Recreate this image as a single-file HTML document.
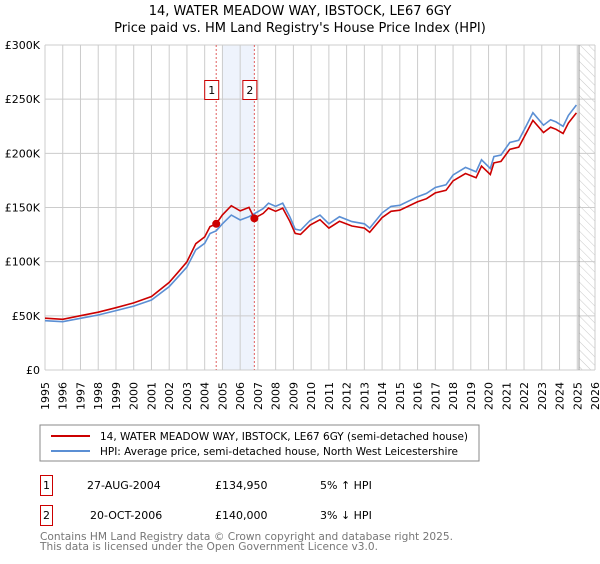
<!DOCTYPE html>
<html><head><meta charset="utf-8">
<style>
body{margin:0;background:#fff;font-family:"DejaVu Sans","Liberation Sans",sans-serif;}
svg text{font-family:"DejaVu Sans","Liberation Sans",sans-serif;}
</style></head>
<body>
<svg id="c" width="600" height="560" xmlns="http://www.w3.org/2000/svg">
<defs>
<pattern id="hatch" width="6" height="6" patternUnits="userSpaceOnUse" patternTransform="rotate(-45)">
<line x1="0" y1="0" x2="0" y2="6" stroke="#bbb" stroke-width="0.8"/>
</pattern>
</defs>
<text x="300" y="15" text-anchor="middle" font-size="13" fill="#000">14, WATER MEADOW WAY, IBSTOCK, LE67 6GY</text>
<text x="300" y="32" text-anchor="middle" font-size="13" fill="#000">Price paid vs. HM Land Registry's House Price Index (HPI)</text>
<g id="grid"></g>
<g id="marks"></g>
<g id="axes"></g>
<rect x="40" y="425" width="439" height="36" fill="#fff" stroke="#888"/>
<line x1="51" y1="436" x2="90" y2="436" stroke="#cc0000" stroke-width="2"/>
<text x="100" y="440" font-size="11" textLength="368" lengthAdjust="spacingAndGlyphs">14, WATER MEADOW WAY, IBSTOCK, LE67 6GY (semi-detached house)</text>
<line x1="51" y1="451" x2="90" y2="451" stroke="#5b8fd4" stroke-width="2"/>
<text x="100" y="455" font-size="11" textLength="358" lengthAdjust="spacingAndGlyphs">HPI: Average price, semi-detached house, North West Leicestershire</text>
<g>
<rect x="40.5" y="475.5" width="12" height="20" fill="#fff" stroke="#cc0000"/>
<text x="46.5" y="489" text-anchor="middle" font-size="11">1</text>
<text x="87" y="489" font-size="11">27-AUG-2004</text>
<text x="215" y="489" font-size="11">£134,950</text>
<text x="320" y="489" font-size="11">5% ↑ HPI</text>
</g>
<g>
<rect x="40.5" y="505.5" width="12" height="20" fill="#fff" stroke="#cc0000"/>
<text x="46.5" y="519" text-anchor="middle" font-size="11">2</text>
<text x="90" y="519" font-size="11">20-OCT-2006</text>
<text x="215" y="519" font-size="11">£140,000</text>
<text x="320" y="519" font-size="11">3% ↓ HPI</text>
</g>
<text x="40" y="540" font-size="11" fill="#777" textLength="413" lengthAdjust="spacingAndGlyphs">Contains HM Land Registry data © Crown copyright and database right 2025.</text>
<text x="40" y="550" font-size="11" fill="#777" textLength="338" lengthAdjust="spacingAndGlyphs">This data is licensed under the Open Government Licence v3.0.</text>
</svg>
<script>
const hpiYears=[1995,1996,1997,1998,1999,2000,2001,2002,2002.5,2003,2003.5,2004,2004.3,2004.65,2005,2005.5,2006,2006.5,2006.8,2007.3,2007.6,2008,2008.4,2008.8,2009.1,2009.4,2009.94,2010.5,2011,2011.6,2012.3,2013,2013.3,2014,2014.5,2015,2016,2016.5,2017,2017.6,2018,2018.7,2019.3,2019.6,2020.1,2020.3,2020.7,2021.2,2021.7,2022.1,2022.5,2023.1,2023.5,2023.8,2024.2,2024.5,2024.95];
const hpiValues=[45.5,44.6,47.7,50.8,54.8,59,64.6,77,86,95,111,117,126,128.5,135,143,138.5,141.5,144.3,149,154,151,154,141.5,130,129,138,143,135,141.5,137,135,131,145,151,152,160,163,168.5,171,180,187,183,194,186,197,198.5,210,212,224.6,237.5,226,231,229,225,235,244.6];
const saleYears=[2004.65,2006.8];
const salePrices=[134950,140000];
const yTicks=[0,50,100,150,200,250,300];
const yTickLabels=["£0","£50K","£100K","£150K","£200K","£250K","£300K"];
const xTicks=[];for(let y=1995;y<=2026;y++)xTicks.push(y);

const NS="http://www.w3.org/2000/svg";
const X=y=>45+(y-1995)*(550/31);
const Y=v=>370-v*(325/300);
function mk(tag,attrs,parent){const e=document.createElementNS(NS,tag);for(const k in attrs)e.setAttribute(k,attrs[k]);parent.appendChild(e);return e;}
const grid=document.getElementById('grid'),marks=document.getElementById('marks'),axes=document.getElementById('axes');
let band=mk('rect',{x:X(2005),y:Y(300),width:X(saleYears[1])-X(2005),height:Y(0)-Y(300),fill:'#eef3fc'},grid);


let hatch=mk('rect',{x:X(2025.1),y:Y(300),width:X(2026)-X(2025.1),height:Y(0)-Y(300),fill:'url(#hatch)'},grid);


xTicks.forEach(t=>{
 let l=mk('line',{x1:X(t),x2:X(t),y1:Y(300),y2:Y(0),stroke:'#ccc','stroke-width':1},grid);
 
 
 let tx=mk('text',{x:0,y:0,transform:`translate(${X(t)+4},${Y(0)+12}) rotate(-90)`,'text-anchor':'end','font-size':'11'},axes);
 tx.textContent=t;
 
 
});
yTicks.forEach((t,i)=>{
 let l=mk('line',{x1:X(1995),x2:X(2026),y1:Y(t),y2:Y(t),stroke:'#ccc','stroke-width':1},grid);
 
 
 let tx=mk('text',{x:40,y:Y(t)+4,'text-anchor':'end','font-size':'11'},axes);
 tx.textContent=yTickLabels[i];
 
 
});
let nowLine=mk('line',{x1:X(2025.1),x2:X(2025.1),y1:Y(300),y2:Y(0),stroke:'#999','stroke-width':1},grid);


saleYears.forEach((s,i)=>{
 let l=mk('line',{x1:X(s),x2:X(s),y1:Y(300),y2:Y(0),stroke:'#e06060','stroke-width':1,'stroke-dasharray':'2,2'},marks);
 
 
 let r=mk('rect',{x:X(s)-11.5,y:80.5,width:14,height:19,fill:'#fff',stroke:'#cc0000'},marks);
 
 
 let t=mk('text',{x:X(s)-4.5,y:94,'text-anchor':'middle','font-size':'11'},marks);
 t.textContent=String(i+1);
 
 
});
function hpiAt(y){for(let i=0;i<hpiYears.length-1;i++){if(y>=hpiYears[i]&&y<=hpiYears[i+1]){const f=(y-hpiYears[i])/(hpiYears[i+1]-hpiYears[i]);return hpiValues[i]+f*(hpiValues[i+1]-hpiValues[i]);}}return hpiValues[hpiValues.length-1];}
const r1=salePrices[0]/1000/hpiAt(saleYears[0]);
const r2=salePrices[1]/1000/hpiAt(saleYears[1]);
let pb='',pr='';
hpiYears.forEach((y,i)=>{
 const v=hpiValues[i];
 pb+=(i?'L':'M')+X(y).toFixed(1)+','+Y(v).toFixed(1);
 const rv=v*(y<=saleYears[0]?r1:(y<saleYears[1]?r1*1.01:r2));
 pr+=(i?'L':'M')+X(y).toFixed(1)+','+Y(rv).toFixed(1);
});
let hp=mk('path',{d:pb,fill:'none',stroke:'#5b8fd4','stroke-width':1.6},marks);


let rp=mk('path',{d:pr,fill:'none',stroke:'#cc0000','stroke-width':1.6},marks);


saleYears.forEach((s,i)=>{
 let c=mk('circle',{cx:X(s),cy:Y(salePrices[i]/1000),r:4,fill:'#cc0000'},marks);
 
 
});
</script>
</body></html>
